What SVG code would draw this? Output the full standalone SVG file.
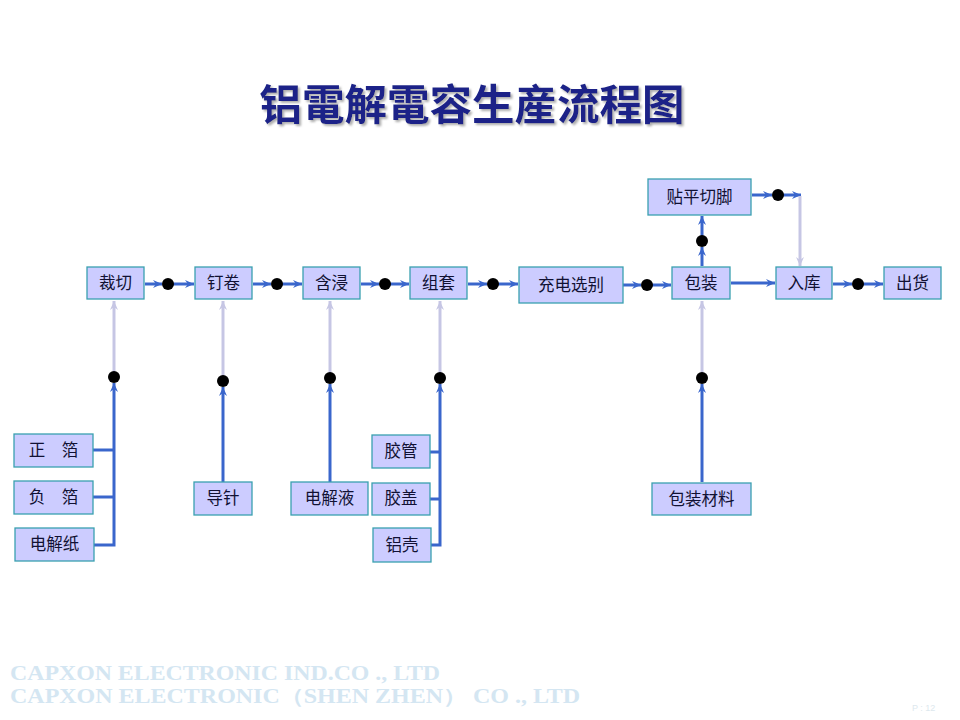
<svg xmlns="http://www.w3.org/2000/svg" width="960" height="720" viewBox="0 0 960 720">
<defs>
<marker id="ah" markerUnits="userSpaceOnUse" markerWidth="10" markerHeight="10" refX="9" refY="5" orient="auto">
<path d="M0,1 L9,5 L0,9 L3,5 z" fill="#3a66cc"/>
</marker>
<marker id="ahl" markerUnits="userSpaceOnUse" markerWidth="10" markerHeight="10" refX="9" refY="5" orient="auto">
<path d="M0,1 L9,5 L0,9 L3,5 z" fill="#c6c6e4"/>
</marker>
<filter id="sh" x="-5%" y="-20%" width="115%" height="150%">
<feDropShadow dx="2" dy="2" stdDeviation="0.8" flood-color="#9a9a9a" flood-opacity="0.8"/>
</filter>
</defs>
<style>
.box{fill:#ccccff;stroke:#3aa0b0;stroke-width:1.3}
.t{font-family:"Noto Sans CJK SC",sans-serif;font-size:16.5px;fill:#111133;text-anchor:middle}
.b{fill:none;stroke:#3a66cc;stroke-width:3}
.l{fill:none;stroke:#c6c6e4;stroke-width:3}
.d{fill:#000}
.ft{font-family:"Liberation Serif",serif;font-weight:bold;font-size:20px;fill:#d4e6f2}
</style>
<rect width="960" height="720" fill="#fff"/>
<text x="472" y="120" font-family="Noto Sans CJK SC,sans-serif" font-weight="bold" font-size="42.5" fill="#1a2488" text-anchor="middle" filter="url(#sh)">铝電解電容生産流程图</text>

<g id="connectors">
<line class="b" x1="145" y1="284" x2="162" y2="284" marker-end="url(#ah)"/>
<line class="b" x1="168" y1="284" x2="194" y2="284" marker-end="url(#ah)"/>
<line class="b" x1="253" y1="284" x2="271" y2="284" marker-end="url(#ah)"/>
<line class="b" x1="277" y1="284" x2="302" y2="284" marker-end="url(#ah)"/>
<line class="b" x1="361" y1="284" x2="379" y2="284" marker-end="url(#ah)"/>
<line class="b" x1="385" y1="284" x2="409" y2="284" marker-end="url(#ah)"/>
<line class="b" x1="468" y1="284" x2="487" y2="284" marker-end="url(#ah)"/>
<line class="b" x1="493" y1="284" x2="518" y2="284" marker-end="url(#ah)"/>
<line class="b" x1="623" y1="285" x2="641" y2="285" marker-end="url(#ah)"/>
<line class="b" x1="647" y1="285" x2="671" y2="285" marker-end="url(#ah)"/>
<line class="b" x1="731" y1="283" x2="775" y2="283" marker-end="url(#ah)"/>
<line class="b" x1="833" y1="284" x2="852" y2="284" marker-end="url(#ah)"/>
<line class="b" x1="858" y1="284" x2="883" y2="284" marker-end="url(#ah)"/>
<line class="b" x1="702" y1="266" x2="702" y2="247" marker-end="url(#ah)"/>
<line class="b" x1="702" y1="241" x2="702" y2="216" marker-end="url(#ah)"/>
<line class="b" x1="752" y1="195" x2="772" y2="195" marker-end="url(#ah)"/>
<line class="b" x1="778" y1="195" x2="801" y2="195" marker-end="url(#ah)"/>
<line class="l" x1="800" y1="196" x2="800" y2="266" marker-end="url(#ahl)"/>
<line class="l" x1="114" y1="372" x2="114" y2="301" marker-end="url(#ahl)"/>
<line class="l" x1="223" y1="376" x2="223" y2="301" marker-end="url(#ahl)"/>
<line class="l" x1="330" y1="373" x2="330" y2="301" marker-end="url(#ahl)"/>
<line class="l" x1="440" y1="373" x2="440" y2="301" marker-end="url(#ahl)"/>
<line class="l" x1="702" y1="373" x2="702" y2="301" marker-end="url(#ahl)"/>
<polyline class="b" points="94,545 114,545 114,383" marker-end="url(#ah)"/>
<line class="b" x1="93" y1="450" x2="114" y2="450"/>
<line class="b" x1="93" y1="497" x2="114" y2="497"/>
<line class="b" x1="223" y1="482" x2="223" y2="387" marker-end="url(#ah)"/>
<line class="b" x1="330" y1="482" x2="330" y2="384" marker-end="url(#ah)"/>
<polyline class="b" points="431,545 440,545 440,384" marker-end="url(#ah)"/>
<line class="b" x1="430" y1="452" x2="440" y2="452"/>
<line class="b" x1="430" y1="499" x2="440" y2="499"/>
<line class="b" x1="702" y1="482" x2="702" y2="384" marker-end="url(#ah)"/>
<circle class="d" cx="168" cy="284" r="6"/>
<circle class="d" cx="277" cy="284" r="6"/>
<circle class="d" cx="385" cy="284" r="6"/>
<circle class="d" cx="493" cy="284" r="6"/>
<circle class="d" cx="647" cy="285" r="6"/>
<circle class="d" cx="858" cy="284" r="6"/>
<circle class="d" cx="702" cy="241" r="6"/>
<circle class="d" cx="778" cy="195" r="6"/>
<circle class="d" cx="114" cy="377" r="6"/>
<circle class="d" cx="223" cy="381" r="6"/>
<circle class="d" cx="330" cy="378" r="6"/>
<circle class="d" cx="440" cy="378" r="6"/>
<circle class="d" cx="702" cy="378" r="6"/>
</g>

<g id="n-caiqie"><rect class="box" x="87" y="267" width="57" height="32"/><text class="t" x="115.5" y="289">裁切</text></g>
<g id="n-dingjuan"><rect class="box" x="195" y="267" width="57" height="32"/><text class="t" x="223.5" y="289">钉卷</text></g>
<g id="n-hanjin"><rect class="box" x="303" y="267" width="57" height="32"/><text class="t" x="331.5" y="289">含浸</text></g>
<g id="n-zutao"><rect class="box" x="410" y="267" width="57" height="32"/><text class="t" x="438.5" y="289">组套</text></g>
<g id="n-chongdian"><rect class="box" x="519" y="267" width="104" height="36"/><text class="t" x="571" y="291">充电选别</text></g>
<g id="n-baozhuang"><rect class="box" x="672" y="267" width="58" height="32"/><text class="t" x="701" y="289">包装</text></g>
<g id="n-ruku"><rect class="box" x="776" y="267" width="56" height="32"/><text class="t" x="804" y="289">入库</text></g>
<g id="n-chuhuo"><rect class="box" x="884" y="267" width="57" height="32"/><text class="t" x="912.5" y="289">出货</text></g>
<g id="n-tieping"><rect class="box" x="648" y="179" width="103" height="36"/><text class="t" x="699.5" y="203">贴平切脚</text></g>
<g id="n-zhengbo"><rect class="box" x="14" y="434" width="79" height="33"/><text class="t" x="53.5" y="456">正　箔</text></g>
<g id="n-fubo"><rect class="box" x="14" y="481" width="79" height="33"/><text class="t" x="53.5" y="503">负　箔</text></g>
<g id="n-dianjiezhi"><rect class="box" x="15" y="528" width="79" height="33"/><text class="t" x="54.5" y="550">电解纸</text></g>
<g id="n-daozhen"><rect class="box" x="194" y="482" width="58" height="33"/><text class="t" x="223" y="504">导针</text></g>
<g id="n-dianjieye"><rect class="box" x="291" y="482" width="77" height="33"/><text class="t" x="329.5" y="504">电解液</text></g>
<g id="n-jiaoguan"><rect class="box" x="372" y="435" width="58" height="33"/><text class="t" x="401" y="457">胶管</text></g>
<g id="n-jiaogai"><rect class="box" x="372" y="483" width="58" height="32"/><text class="t" x="401" y="504">胶盖</text></g>
<g id="n-lvke"><rect class="box" x="373" y="528" width="58" height="34"/><text class="t" x="402" y="551">铝壳</text></g>
<g id="n-baozhuangcailiao"><rect class="box" x="652" y="483" width="99" height="32"/><text class="t" x="701.5" y="505">包装材料</text></g>

<text class="ft" x="10" y="680" textLength="430" lengthAdjust="spacingAndGlyphs">CAPXON ELECTRONIC IND.CO ., LTD</text>
<text class="ft" x="10" y="703" textLength="570" lengthAdjust="spacingAndGlyphs">CAPXON ELECTRONIC（SHEN ZHEN） CO ., LTD</text>
<text x="912" y="711" font-family="Liberation Sans,sans-serif" font-size="9" fill="#dde8ee">P : 12</text>
</svg>
